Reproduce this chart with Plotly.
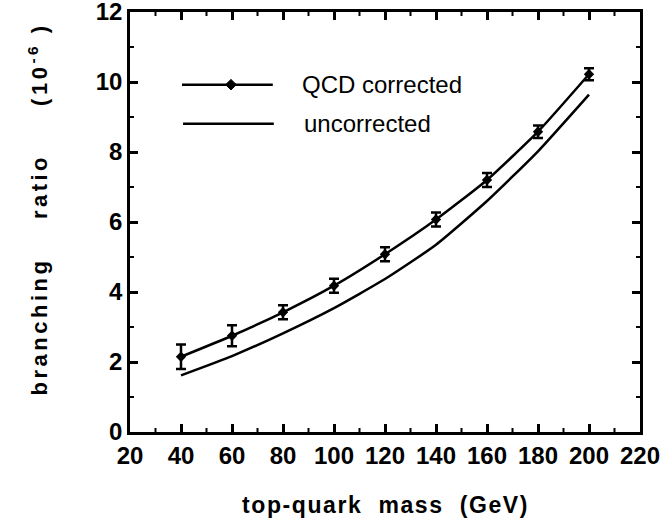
import plotly.graph_objects as go

mass = [40, 60, 80, 100, 120, 140, 160, 180, 200]
qcd_corrected = [2.15, 2.75, 3.42, 4.18, 5.08, 6.07, 7.20, 8.58, 10.22]
qcd_error = [0.35, 0.30, 0.20, 0.20, 0.20, 0.20, 0.20, 0.18, 0.17]
uncorrected = [1.62, 2.17, 2.82, 3.54, 4.37, 5.35, 6.60, 8.02, 9.64]

x_ticks = [20, 40, 60, 80, 100, 120, 140, 160, 180, 200, 220]
y_ticks = [0, 2, 4, 6, 8, 10, 12]

FONT = "Liberation Sans, Arial, sans-serif"

fig = go.Figure()
fig.add_trace(go.Scatter(
    x=mass, y=uncorrected, mode="lines",
    line=dict(color="black", width=2.5, shape="spline", smoothing=0.5),
    showlegend=False, name="uncorrected"))
fig.add_trace(go.Scatter(
    x=mass, y=qcd_corrected, mode="lines+markers",
    line=dict(color="black", width=2.5, shape="spline", smoothing=0.5),
    marker=dict(symbol="diamond", size=8, color="black"),
    error_y=dict(type="data", array=qcd_error, visible=True,
                 color="black", thickness=2.5, width=5),
    showlegend=False, name="QCD corrected"))

tickfont = dict(family=FONT, size=24, color="black", weight="bold")
x_range = [x_ticks[0], x_ticks[-1]]
y_range = [y_ticks[0], y_ticks[-1]]

fig.update_layout(
    xaxis=dict(range=x_range, tickmode="linear", tick0=x_ticks[0],
               dtick=x_ticks[1] - x_ticks[0],
               ticks="inside", ticklen=8, tickwidth=2.5, tickcolor="black",
               showline=True, linecolor="black", linewidth=2.5,
               mirror="ticks", showgrid=False, zeroline=False,
               ticklabeloverflow="allow", tickfont=tickfont),
    yaxis=dict(range=y_range, tickmode="linear", tick0=y_ticks[0],
               dtick=y_ticks[1] - y_ticks[0],
               ticks="inside", ticklen=8, tickwidth=2.5, tickcolor="black",
               showline=True, linecolor="black", linewidth=2.5,
               mirror="ticks", showgrid=False, zeroline=False,
               ticklabeloverflow="allow", tickfont=tickfont),
)

shapes = []
# minor ticks halfway between major ticks, on all four sides (4px, inside)
x_minor = [(a + b) / 2 for a, b in zip(x_ticks[:-1], x_ticks[1:])]
y_minor = [(a + b) / 2 for a, b in zip(y_ticks[:-1], y_ticks[1:])]
for xv in x_minor:
    for anchor, sign in ((y_range[0], 1), (y_range[1], -1)):
        shapes.append(dict(type="line", xref="x", yref="y",
                           ysizemode="pixel", yanchor=anchor,
                           x0=xv, x1=xv, y0=0, y1=4 * sign,
                           line=dict(color="black", width=2)))
for yv in y_minor:
    for anchor, sign in ((x_range[0], 1), (x_range[1], -1)):
        shapes.append(dict(type="line", xref="x", yref="y",
                           xsizemode="pixel", xanchor=anchor,
                           y0=yv, y1=yv, x0=0, x1=4 * sign,
                           line=dict(color="black", width=2)))

# legend drawn by hand (paper coordinates)
dx, dy = 0.0105, 0.0125
shapes += [
    dict(type="line", xref="paper", yref="paper", x0=0.102, x1=0.280,
         y0=0.827, y1=0.827, line=dict(color="black", width=2.5)),
    dict(type="line", xref="paper", yref="paper", x0=0.104, x1=0.282,
         y0=0.734, y1=0.734, line=dict(color="black", width=2.5)),
    dict(type="path", xref="paper", yref="paper",
         path=f"M {0.198 - dx} 0.827 L 0.198 {0.827 + dy} L {0.198 + dx} 0.827 L 0.198 {0.827 - dy} Z",
         fillcolor="black", line=dict(color="black", width=1)),
]

annotations = [
    dict(xref="paper", yref="paper", x=0.333, y=0.827, xanchor="left",
         yanchor="middle", showarrow=False, text="QCD corrected",
         font=dict(family=FONT, size=24, color="black")),
    dict(xref="paper", yref="paper", x=0.337, y=0.734, xanchor="left",
         yanchor="middle", showarrow=False, text="uncorrected",
         font=dict(family=FONT, size=24, color="black")),
    dict(xref="paper", yref="paper", x=0.5, y=0, yshift=-73,
         xanchor="center", yanchor="middle", showarrow=False,
         text='<span style="letter-spacing:1.6px">top-quark  mass  (GeV)</span>',
         font=dict(family=FONT, size=23, color="black", weight="bold")),
    dict(xref="paper", yref="paper", x=0, y=0.53, xshift=-92,
         xanchor="center", yanchor="middle", showarrow=False, textangle=-90,
         text='<span style="letter-spacing:3.5px">branching    ratio     (10<sup>-6</sup> )</span>',
         font=dict(family=FONT, size=22, color="black", weight="bold")),
]

fig.update_layout(
    width=669, height=523,
    margin=dict(l=130, r=29, t=12, b=91, autoexpand=False),
    paper_bgcolor="white", plot_bgcolor="white",
    shapes=shapes, annotations=annotations,
    showlegend=False,
)

fig.write_html("out.html", config={"displayModeBar": False},
               post_script="document.body.style.margin='0';")
